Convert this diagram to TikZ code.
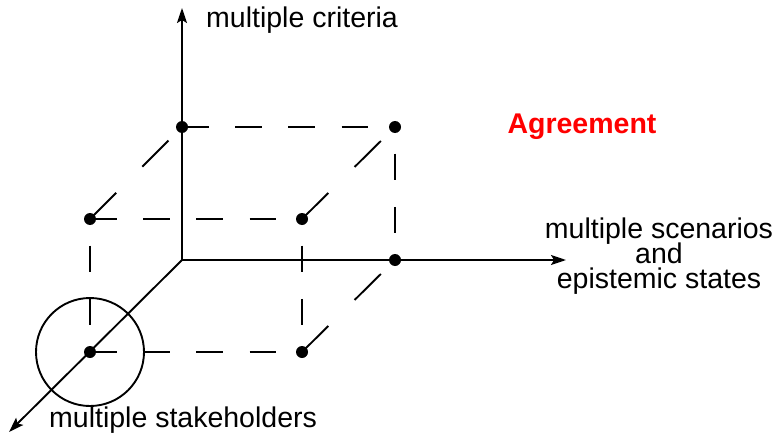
\documentclass[tikz,border=0pt]{standalone}
\usepackage{fontspec}
\setmainfont{Liberation Sans}
\usetikzlibrary{arrows.meta}
\begin{document}
\begin{tikzpicture}[x=1pt,y=-1pt,
  axis/.style={line width=1.9pt, -{Stealth[length=15pt,width=10pt,inset=3pt]}},
  edge/.style={line width=1.9pt},
  hdash/.style={edge, dash pattern=on 26.6pt off 26.6pt},
  vdash/.style={edge, dash pattern=on 26.6pt off 26.6pt, dash phase=26.6pt},
  ddash/.style={edge, dash pattern=on 37pt off 37pt},
  lbl/.style={font=\fontsize{28.5}{25}\selectfont, inner sep=0pt,
              execute at begin node={\lineskiplimit=-50pt}},
]
\useasboundingbox (0,0) rectangle (781,433);

% origin and axis tips
\coordinate (O) at (182,260);
\coordinate (ytip) at (182,8);
\coordinate (xtip) at (566,260);
\coordinate (ztip) at (9,432);

% cube vertices (front face and the face shifted along the third axis)
\coordinate (A) at (182,127);
\coordinate (B) at (395,127);
\coordinate (C) at (395,260);
\coordinate (D) at (90,352);
\coordinate (E) at (90,219);
\coordinate (F) at (302,219);
\coordinate (G) at (302,352);

% axes
\draw[axis] (O) -- (ytip);
\draw[axis] (O) -- (xtip);
\draw[axis] (O) -- (ztip);

% dashed cube edges
\draw[hdash] (A) -- (B);
\draw[hdash] (E) -- (F);
\draw[hdash] (D) -- (G);
\draw[vdash] (E) -- (D);
\draw[vdash] (B) -- (C);
\draw[vdash] (F) -- (G);
\draw[ddash] (E) -- (A);
\draw[ddash] (F) -- (B);
\draw[ddash] (G) -- (C);

% circle around the stakeholder corner
\draw[edge] (D) circle (54);

% vertex dots
\foreach \p in {A,B,C,D,E,F,G}
  \fill (\p) circle (6);

% labels
\node[lbl, anchor=base west] (crit) at (206,28) {multiple criteria};
\node[lbl, anchor=base, text=red, font=\fontsize{28.5}{25}\selectfont\bfseries] (agree) at (582,134) {Agreement};
\node[lbl, anchor=base, align=center] (scen) at (659,288) {multiple scenarios\\and\\epistemic states};
\node[lbl, anchor=base west] (stake) at (49,427) {multiple stakeholders};
\end{tikzpicture}
\end{document}
